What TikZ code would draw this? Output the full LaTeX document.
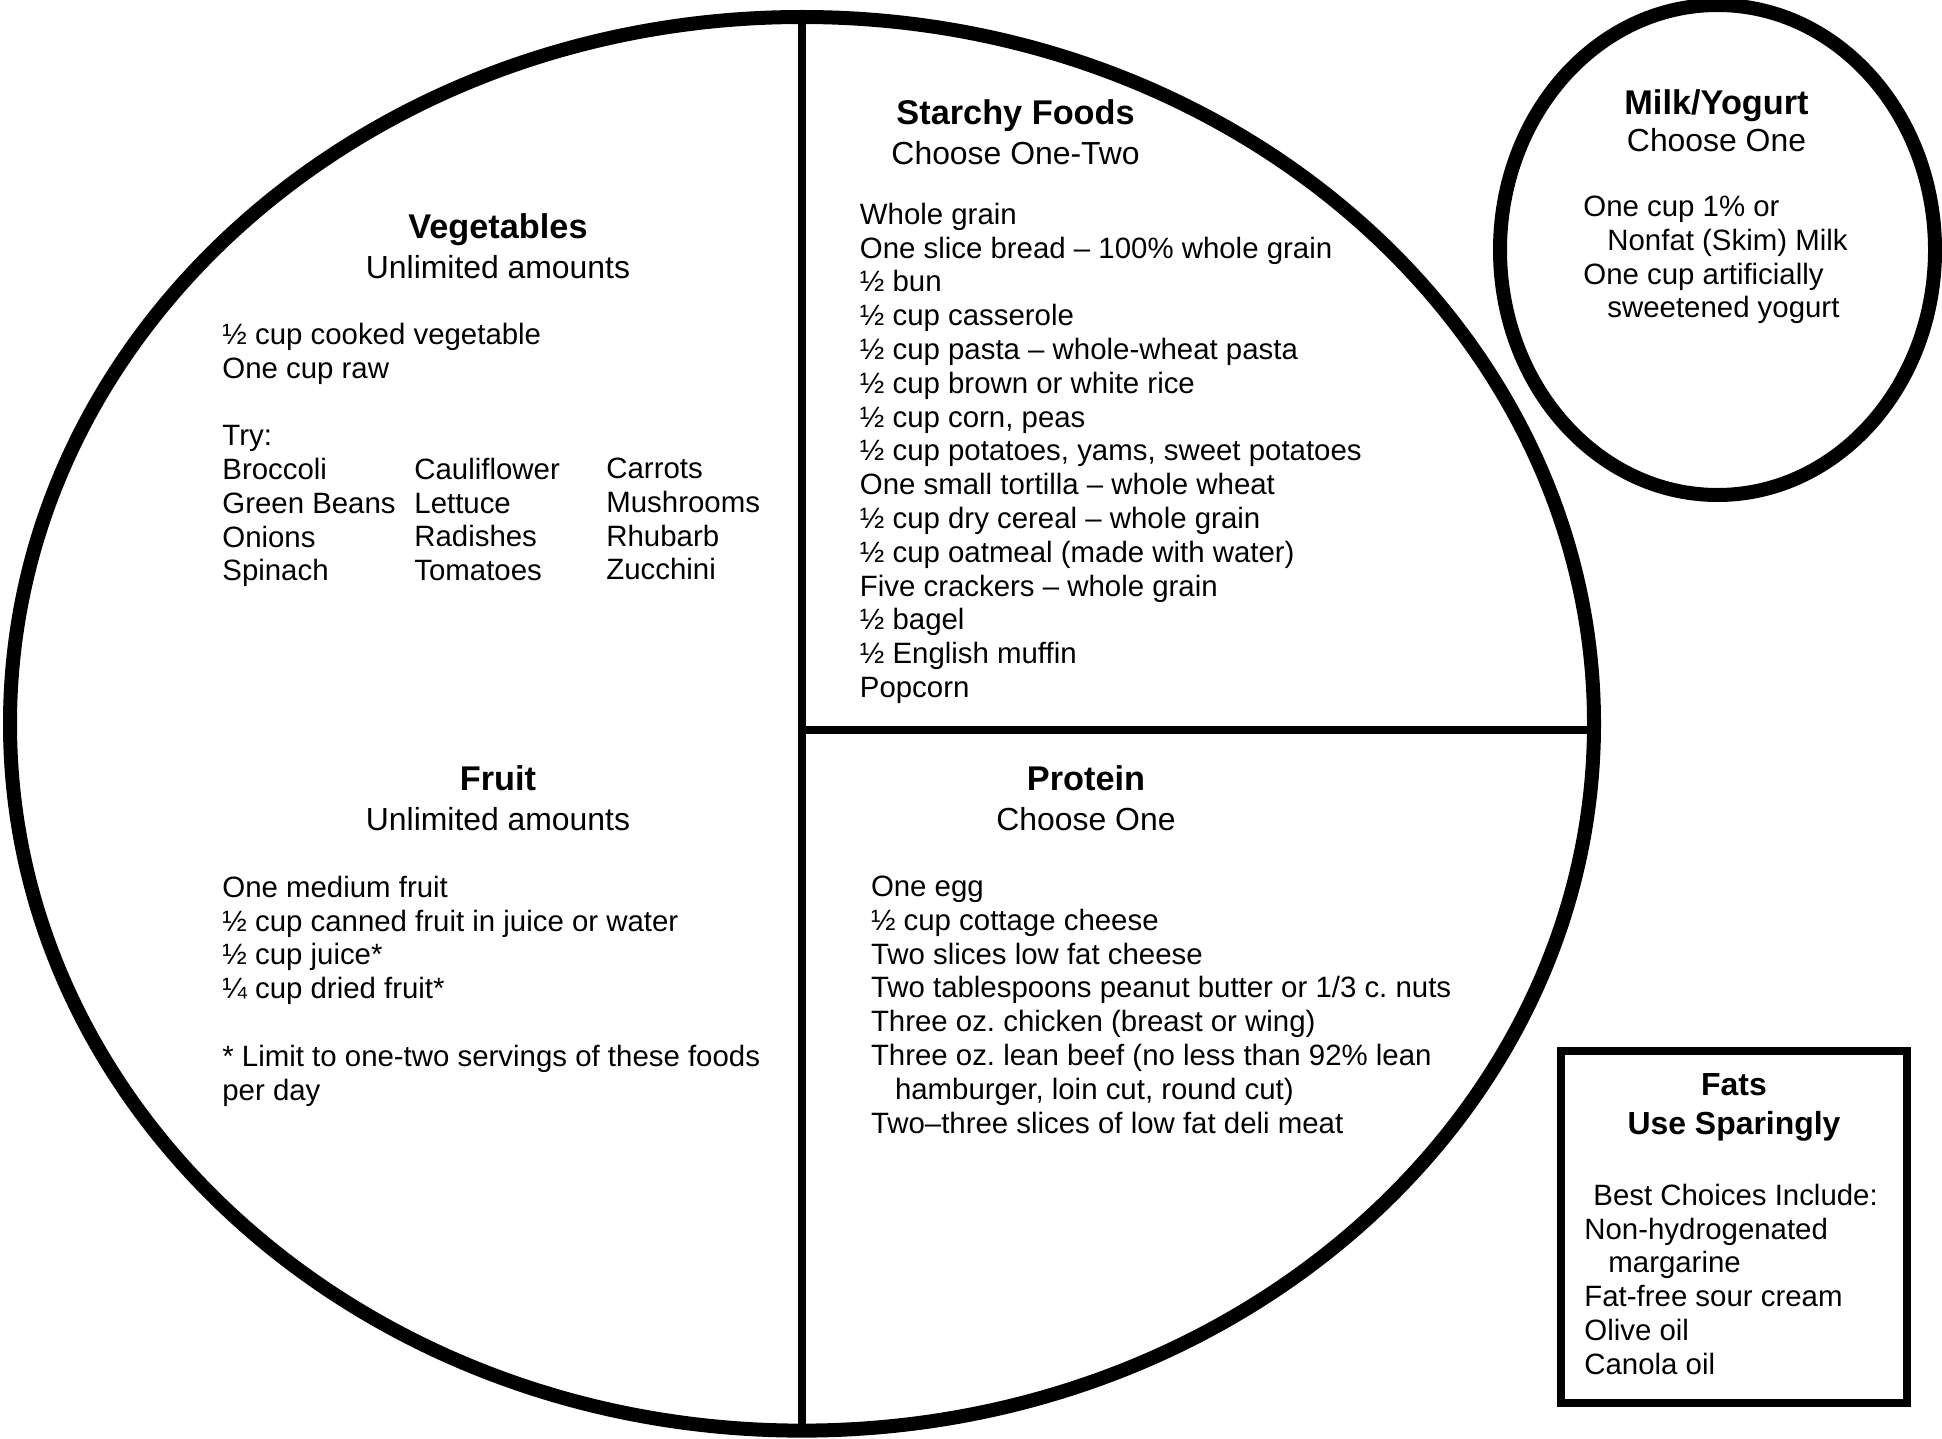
\documentclass[tikz,border=0pt]{standalone}
\usepackage{fontspec}
\setmainfont{Liberation Sans}
\usetikzlibrary{shapes}
\newcommand{\bodysize}{\fontsize{14.7pt}{16.9pt}\selectfont\frenchspacing}
\newcommand{\headsize}{\fontsize{17.15pt}{19.8pt}\selectfont}
\newcommand{\subsize}{\fontsize{15.95pt}{19.8pt}\selectfont}
\tikzstyle{plate} = [ellipse, draw, line width=7pt, inner sep=0pt, outer sep=0pt]
\tikzstyle{box} = [rectangle, draw, line width=4pt, inner sep=0pt, outer sep=0pt]
\tikzstyle{divider} = [draw, line width=4pt]
\tikzstyle{heading} = [align=center, anchor=north, inner sep=0pt, font=\headsize]
\tikzstyle{list} = [align=left, anchor=north west, inner sep=0pt, font=\bodysize]

\begin{document}
\begin{tikzpicture}[x=0.5pt, y=-0.5pt]
      \useasboundingbox (0,0) rectangle (1942,1439);
      \node [plate, minimum width=792pt, minimum height=706.8pt] (plate) at (802,723.8) {};
      \coordinate (cut) at (803,730);
      \path [divider] (plate.north) -- (plate.south);
      \path [divider] (cut) -- (cut -| plate.east);
      \node [plate, minimum width=217.5pt, minimum height=245pt] (milk) at (1717.5,250) {};
      \node [box, minimum width=173pt, minimum height=176pt] (fats) at (1734,1227) {};

      \node [heading] (vegtitle) at (498,213.4) {\textbf{Vegetables}\\\subsize Unlimited amounts};
      \node [list] (veglist) at (222,322.5) {½ cup cooked vegetable\\One cup raw\\[16.9pt]Try:\\Broccoli\\Green Beans\\Onions\\Spinach};
      \node [list] (vegmid) at (414,457.5) {Cauliflower\\Lettuce\\Radishes\\Tomatoes};
      \node [list] (vegright) at (606,457.5) {Carrots\\Mushrooms\\Rhubarb\\Zucchini};

      \node [heading] (starchtitle) at (1015.6,99.4) {\textbf{Starchy Foods}\\\subsize Choose One-Two};
      \node [list] (starchlist) at (859.5,202.5) {Whole grain\\One slice bread – 100\% whole grain\\½ bun\\½ cup casserole\\½ cup pasta – whole-wheat pasta\\½ cup brown or white rice\\½ cup corn, peas\\½ cup potatoes, yams, sweet potatoes\\One small tortilla – whole wheat\\½ cup dry cereal – whole grain\\½ cup oatmeal (made with water)\\Five crackers – whole grain\\½ bagel\\½ English muffin\\Popcorn};

      \node [heading] (milktitle) at (1716.5,89.4) {\textbf{Milk/Yogurt}\\[-1.2pt]\subsize Choose One};
      \node [list] (milklist) at (1583,195.5) {One cup 1\% or\\\hspace*{12pt}Nonfat (Skim) Milk\\One cup artificially\\\hspace*{12pt}sweetened yogurt};

      \node [heading] (fruittitle) at (498,765.4) {\textbf{Fruit}\\\subsize Unlimited amounts};
      \node [list] (fruitlist) at (222,875.5) {One medium fruit\\½ cup canned fruit in juice or water\\½ cup juice*\\¼ cup dried fruit*\\[16.9pt]* Limit to one-two servings of these foods\\per day};

      \node [heading] (proteintitle) at (1086,765.4) {\textbf{Protein}\\\subsize Choose One};
      \node [list] (proteinlist) at (870.6,875.5) {One egg\\½ cup cottage cheese\\Two slices low fat cheese\\Two tablespoons peanut butter or 1/3 c. nuts\\Three oz. chicken (breast or wing)\\Three oz. lean beef (no less than 92\% lean\\\hspace*{12pt}hamburger, loin cut, round cut)\\Two–three slices of low fat deli meat};

      \node [heading, font=\subsize] (fatstitle) at (1734,1073) {\textbf{Fats}\\\textbf{Use Sparingly}};
      \node [list] (fatslist) at (1584,1183.5) {\hspace*{4.5pt}Best Choices Include:\\Non-hydrogenated\\\hspace*{12pt}margarine\\Fat-free sour cream\\Olive oil\\Canola oil};
  \end{tikzpicture}
\end{document}
